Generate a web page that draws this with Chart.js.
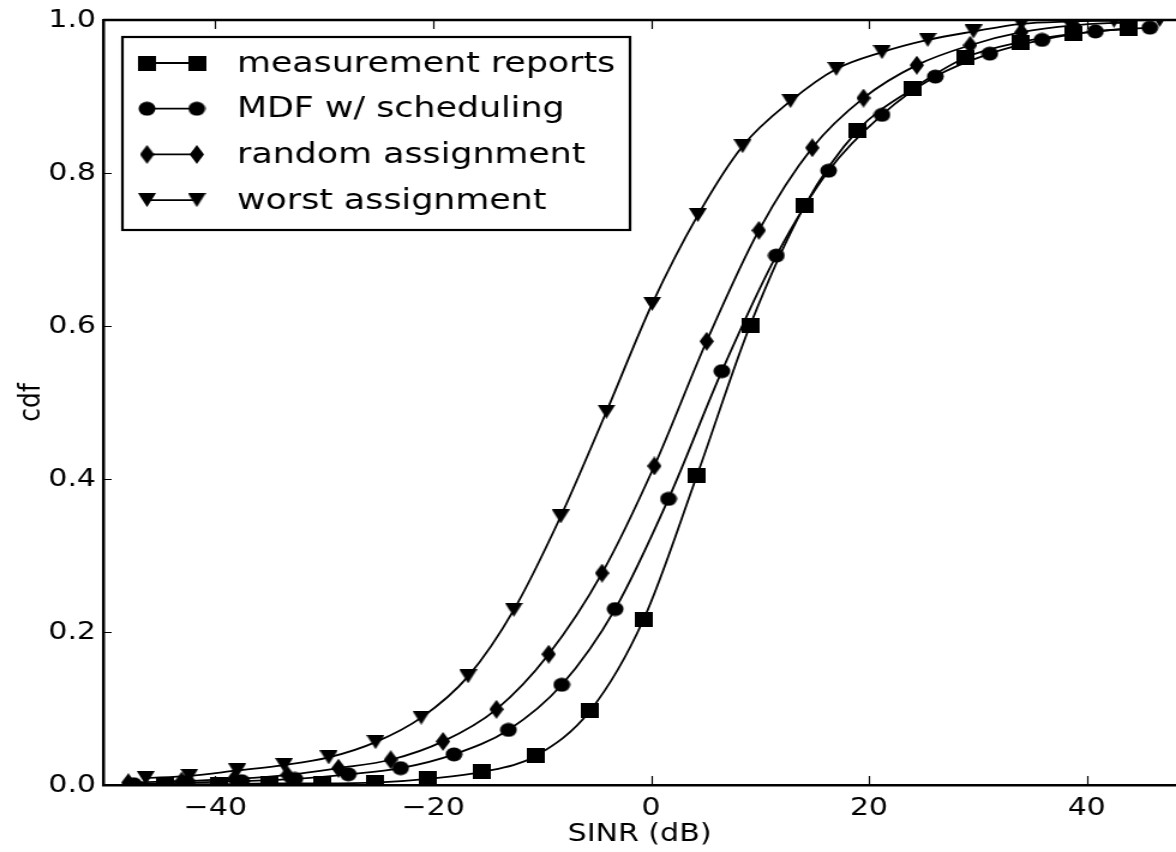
<!DOCTYPE html>
<html>
<head>
<meta charset="utf-8">
<script src="https://cdn.jsdelivr.net/npm/chart.js@4.4.0/dist/chart.umd.min.js"></script>
<style>
html, body { margin: 0; padding: 0; background: #fff; overflow: hidden; }
#wrap { width: 980px; height: 852px; transform: scaleX(1.2); transform-origin: 0 0; }
</style>
</head>
<body>
<div id="wrap"><canvas id="cdf" width="980" height="852"></canvas></div>
<script>
// values
const mrX = [-44.6, -39.7, -35.0, -30.2, -25.3, -20.5, -15.5, -10.6, -5.6, -0.7, 4.2, 9.1, 14.1, 19.0, 24.0, 28.9, 33.9, 38.8, 43.8];
const mrY = [0.001, 0.001, 0.002, 0.002, 0.003, 0.008, 0.017, 0.038, 0.097, 0.216, 0.404, 0.601, 0.757, 0.856, 0.910, 0.951, 0.971, 0.982, 0.989];

const mdfX = [-47.5, -42.6, -37.6, -32.7, -27.8, -23.0, -18.1, -13.1, -8.2, -3.3, 1.6, 6.5, 11.5, 16.3, 21.2, 26.1, 31.1, 35.9, 40.8, 45.8];
const mdfY = [0.001, 0.003, 0.005, 0.008, 0.014, 0.022, 0.040, 0.072, 0.131, 0.230, 0.374, 0.541, 0.692, 0.803, 0.876, 0.926, 0.956, 0.974, 0.985, 0.990];

const rndX = [-48.0, -43.1, -38.3, -33.4, -28.7, -23.9, -19.1, -14.2, -9.4, -4.5, 0.3, 5.1, 9.9, 14.8, 19.5, 24.4, 29.3, 34.0, 38.8, 43.6];
const rndY = [0.003, 0.005, 0.008, 0.013, 0.022, 0.033, 0.057, 0.099, 0.171, 0.277, 0.417, 0.580, 0.725, 0.833, 0.898, 0.941, 0.967, 0.984, 0.993, 0.997];

const wstX = [-46.4, -42.4, -38.0, -33.7, -29.6, -25.3, -21.1, -16.8, -12.6, -8.3, -4.1, 0.1, 4.3, 8.4, 12.8, 17.0, 21.2, 25.4, 29.6, 34.0, 38.3, 42.5, 46.7];
const wstY = [0.009, 0.012, 0.019, 0.026, 0.036, 0.056, 0.088, 0.142, 0.229, 0.351, 0.488, 0.629, 0.745, 0.835, 0.894, 0.936, 0.958, 0.974, 0.985, 0.995, 0.998, 0.999, 1.0];

const seriesNames = ['measurement reports', 'MDF w/ scheduling', 'random assignment', 'worst assignment'];
const xTicks = [-40, -20, 0, 20, 40];
const yTicks = [0, 0.2, 0.4, 0.6, 0.8, 1.0];

const FONT = 'DejaVu Sans';

// marker images
function marker(w, h, draw) {
  const c = document.createElement('canvas');
  c.width = w; c.height = h;
  const g = c.getContext('2d');
  g.fillStyle = '#000';
  draw(g, w, h);
  return c;
}
const mSquare = marker(15, 15, (g, w, h) => g.fillRect(0, 0, w, h));
const mCircle = marker(15, 15, (g, w, h) => { g.beginPath(); g.arc(w / 2, h / 2, 7, 0, Math.PI * 2); g.fill(); });
const mDiamond = marker(12, 19, (g, w, h) => {
  g.beginPath(); g.moveTo(w / 2, 0); g.lineTo(w, h / 2); g.lineTo(w / 2, h); g.lineTo(0, h / 2); g.closePath(); g.fill();
});
const mTri = marker(15, 14, (g, w, h) => {
  g.beginPath(); g.moveTo(0, 0); g.lineTo(w, 0); g.lineTo(w / 2, h); g.closePath(); g.fill();
});
const markers = [mSquare, mCircle, mDiamond, mTri];

function pts(xs, ys) { return xs.map((x, i) => ({ x: x, y: ys[i] })); }

function ds(i, xs, ys) {
  return {
    label: seriesNames[i],
    data: pts(xs, ys),
    borderColor: '#000',
    borderWidth: 1.8,
    pointStyle: markers[i],
    pointRadius: 7,
    cubicInterpolationMode: 'monotone',
    fill: false
  };
}

const frame = {
  id: 'frame',
  afterDraw(chart) {
    const ctx = chart.ctx;
    const a = chart.chartArea;
    const sx = chart.scales.x, sy = chart.scales.y;
    ctx.save();
    ctx.strokeStyle = '#000';
    // top spine
    ctx.lineWidth = 2.5;
    ctx.beginPath();
    ctx.moveTo(a.left, a.top);
    ctx.lineTo(a.right, a.top);
    ctx.stroke();
    // inward ticks
    ctx.lineWidth = 1.2;
    ctx.beginPath();
    xTicks.forEach(v => {
      const px = Math.round(sx.getPixelForValue(v)) + 0.5;
      ctx.moveTo(px, a.bottom); ctx.lineTo(px, a.bottom - 9);
      ctx.moveTo(px, a.top); ctx.lineTo(px, a.top + 9);
    });
    yTicks.forEach(v => {
      const py = Math.round(sy.getPixelForValue(v)) + 0.5;
      ctx.moveTo(a.left, py); ctx.lineTo(a.left + 7, py);
    });
    ctx.stroke();

    // legend
    const bx = 102, by = 37, bw = 423, bh = 193;
    ctx.fillStyle = '#fff';
    ctx.fillRect(bx, by, bw, bh);
    ctx.lineWidth = 2.2;
    ctx.strokeRect(bx, by, bw, bh);
    ctx.font = '29px "' + FONT + '"';
    ctx.textBaseline = 'middle';
    ctx.fillStyle = '#000';
    seriesNames.forEach((name, i) => {
      const y = 63 + i * 45.7;
      ctx.lineWidth = 1.8;
      ctx.beginPath();
      ctx.moveTo(122.5, y); ctx.lineTo(164, y);
      ctx.stroke();
      const m = markers[i];
      ctx.drawImage(m, 122.5 - m.width / 2, y - m.height / 2);
      ctx.drawImage(m, 164 - m.width / 2, y - m.height / 2);
      ctx.fillText(name, 197.5, y + 1);
    });
    ctx.restore();
  }
};

new Chart(document.getElementById('cdf'), {
  type: 'line',
  data: {
    datasets: [ds(0, mrX, mrY), ds(1, mdfX, mdfY), ds(2, rndX, rndY), ds(3, wstX, wstY)]
  },
  options: {
    responsive: false,
    animation: false,
    devicePixelRatio: 1,
    layout: { autoPadding: false, padding: { top: 20, right: 0, left: 0, bottom: 0 } },
    plugins: { legend: { display: false }, tooltip: { enabled: false } },
    scales: {
      x: {
        type: 'linear',
        min: -50.3,
        max: 48.2,
        afterBuildTicks: s => { s.ticks = xTicks.map(v => ({ value: v })); },
        afterFit: s => { s.height = 67; s.paddingLeft = 0; s.paddingRight = 0; },
        grid: { display: false },
        border: { display: true, color: '#000', width: 2.5 },
        ticks: {
          color: '#000',
          padding: 0,
          font: { family: FONT, size: 25 },
          callback: v => v < 0 ? '\u2212' + Math.abs(v) : String(v)
        },
        title: { display: true, text: 'SINR (dB)', color: '#000', font: { family: FONT, size: 25 }, padding: { top: 0, bottom: 3 } }
      },
      y: {
        min: 0,
        max: 1,
        afterBuildTicks: s => { s.ticks = yTicks.map(v => ({ value: v })); },
        afterFit: s => { s.width = 86; s.paddingTop = 0; s.paddingBottom = 0; },
        grid: { display: false },
        border: { display: true, color: '#000', width: 2.5 },
        ticks: {
          color: '#000',
          padding: -2,
          font: { family: FONT, size: 25 },
          callback: v => v.toFixed(1)
        },
        title: { display: true, text: 'cdf', color: '#000', font: { family: FONT, size: 25 }, padding: { top: 11, bottom: 0 } }
      }
    }
  },
  plugins: [frame]
});
</script>
</body>
</html>
